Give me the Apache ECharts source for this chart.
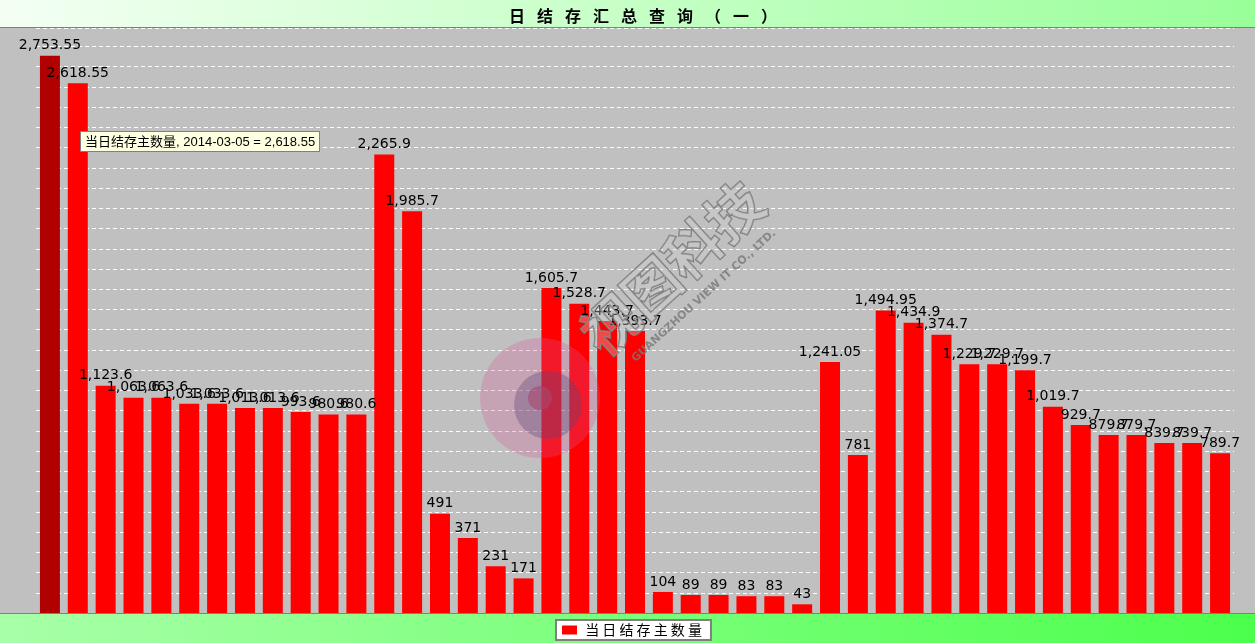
<!DOCTYPE html>
<html>
<head>
<meta charset="utf-8">
<style>
html,body{margin:0;padding:0;background:#c0c0c0;}
#chart{width:1255px;height:643px;}
</style>
<script src="https://cdn.jsdelivr.net/npm/echarts@6/dist/echarts.min.js"></script>
</head>
<body>
<div id="chart"></div>
<script>
var titleText = '日结存汇总查询（一）';
var seriesName = '当日结存主数量';
var categories = [
  '2014-03-04','2014-03-05','2014-03-06','2014-03-07','2014-03-08','2014-03-09','2014-03-10','2014-03-11','2014-03-12','2014-03-13',
  '2014-03-14','2014-03-15','2014-03-16','2014-03-17','2014-03-18','2014-03-19','2014-03-20','2014-03-21','2014-03-22','2014-03-23',
  '2014-03-24','2014-03-25','2014-03-26','2014-03-27','2014-03-28','2014-03-29','2014-03-30','2014-03-31','2014-04-01','2014-04-02',
  '2014-04-03','2014-04-04','2014-04-05','2014-04-06','2014-04-07','2014-04-08','2014-04-09','2014-04-10','2014-04-11','2014-04-12',
  '2014-04-13','2014-04-14','2014-04-15'
];
var values = [
  2753.55, 2618.55, 1123.6, 1063.6, 1063.6, 1033.6, 1033.6, 1013.6, 1013.6, 993.6,
  980.6, 980.6, 2265.9, 1985.7, 491, 371, 231, 171, 1605.7, 1528.7,
  1443.7, 1393.7, 104, 89, 89, 83, 83, 43, 1241.05, 781,
  1494.95, 1434.9, 1374.7, 1229.7, 1229.7, 1199.7, 1019.7, 929.7, 879.7, 879.7,
  839.7, 839.7, 789.7
];
var highlightIndex = 0;
var tooltipIndex = 1;

function fmt(v) {
  var parts = String(v).split('.');
  parts[0] = parts[0].replace(/\B(?=(\d{3})+(?!\d))/g, ',');
  return parts.join('.');
}
function spaced(s, sep) { return s.split('').join(sep); }

var yMax = Math.max.apply(null, values) * 1.05;

var chart = echarts.init(document.getElementById('chart'));
var option = {
  animation: false,
  backgroundColor: '#c0c0c0',
  title: {
    text: spaced(titleText, '\u2002\u2005'),
    left: 504,
    top: 3,
    textStyle: { fontSize: 16, fontWeight: 'bold', color: '#000', fontFamily: 'Noto Sans CJK SC' }
  },
  grid: { left: 36, right: 21, top: 28, bottom: 30 },
  xAxis: {
    type: 'category',
    data: categories,
    axisLine: { show: false },
    axisTick: { show: false },
    axisLabel: { show: false }
  },
  yAxis: {
    type: 'value',
    min: 0,
    max: yMax,
    interval: 100,
    axisLine: { show: false },
    axisTick: { show: false },
    axisLabel: { show: false },
    splitLine: { show: true, lineStyle: { color: '#ffffff', type: [4, 3], width: 1 } }
  },
  legend: {
    left: 556,
    top: 620,
    backgroundColor: '#ffffff',
    borderColor: '#808080',
    borderWidth: 2,
    padding: [3, 9, 3, 6],
    itemWidth: 15,
    itemHeight: 9,
    icon: 'rect',
    data: [{ name: seriesName, itemStyle: { color: '#ff0000' } }],
    formatter: function (n) { return ' ' + spaced(n, ' '); },
    textStyle: { fontSize: 14, color: '#000', fontFamily: 'Noto Sans CJK SC' }
  },
  tooltip: {
    trigger: 'item',
    triggerOn: 'none',
    alwaysShowContent: true,
    transitionDuration: 0,
    position: [80, 131],
    backgroundColor: '#ffffe1',
    borderColor: '#808080',
    borderWidth: 1,
    padding: [1, 4],
    extraCssText: 'border-radius:0;box-shadow:none;line-height:17px;',
    textStyle: { fontSize: 13, color: '#000', fontFamily: 'Liberation Sans, Noto Sans CJK SC' },
    formatter: function (p) { return p.seriesName + ', ' + p.name + ' = ' + fmt(p.value); }
  },
  series: [{
    name: seriesName,
    type: 'bar',
    barWidth: 20,
    data: values.map(function (v, i) {
      return i === highlightIndex ? { value: v, itemStyle: { color: '#b00000' } } : v;
    }),
    itemStyle: { color: '#ff0000' },
    label: {
      show: true,
      position: 'top',
      distance: 3,
      color: '#000',
      fontSize: 14,
      fontFamily: 'DejaVu Sans',
      formatter: function (p) { return fmt(p.value); }
    }
  }],
  graphic: [
    { type: 'rect', z: 0, shape: { x: 0, y: 0, width: 1255, height: 27 },
      style: { fill: new echarts.graphic.LinearGradient(0, 0, 1, 0, [{ offset: 0, color: '#f4fff4' }, { offset: 1, color: '#99ff99' }]) } },
    { type: 'rect', z: 0, shape: { x: 0, y: 27, width: 1255, height: 1 }, style: { fill: '#808080' } },
    { type: 'rect', z: 0, shape: { x: 0, y: 613, width: 1255, height: 30 },
      style: { fill: new echarts.graphic.LinearGradient(0, 0, 1, 0, [{ offset: 0, color: '#a8ffa8' }, { offset: 1, color: '#4cff4c' }]) } },
    { type: 'rect', z: 1, shape: { x: 0, y: 613, width: 1255, height: 1 }, style: { fill: '#808080' } },
    // watermark
    { type: 'circle', z: 50, shape: { cx: 540, cy: 398, r: 60 }, style: { fill: 'rgba(215,90,150,0.28)' } },
    { type: 'circle', z: 51, shape: { cx: 548, cy: 405, r: 34 }, style: { fill: 'rgba(90,70,120,0.35)' } },
    { type: 'circle', z: 52, shape: { cx: 540, cy: 398, r: 12 }, style: { fill: 'rgba(170,70,110,0.6)' } },
    { type: 'text', z: 53, x: 672, y: 268, rotation: 0.74,
      style: { text: '视图科技', fontSize: 56, fontWeight: 'bold', fontFamily: 'Noto Sans CJK SC',
        fill: 'rgba(210,210,210,0.35)', stroke: 'rgba(110,110,110,0.85)', lineWidth: 1.5,
        textAlign: 'center', textVerticalAlign: 'middle' } },
    { type: 'text', z: 53, x: 704, y: 296, rotation: 0.74,
      style: { text: 'GUANGZHOU VIEW IT CO., LTD.', fontSize: 11, fontWeight: 'bold', fontFamily: 'DejaVu Sans',
        fill: 'rgba(120,120,120,0.8)', textAlign: 'center', textVerticalAlign: 'middle' } }
  ]
};
chart.setOption(option);
chart.dispatchAction({ type: 'showTip', seriesIndex: 0, dataIndex: tooltipIndex });
</script>
</body>
</html>
